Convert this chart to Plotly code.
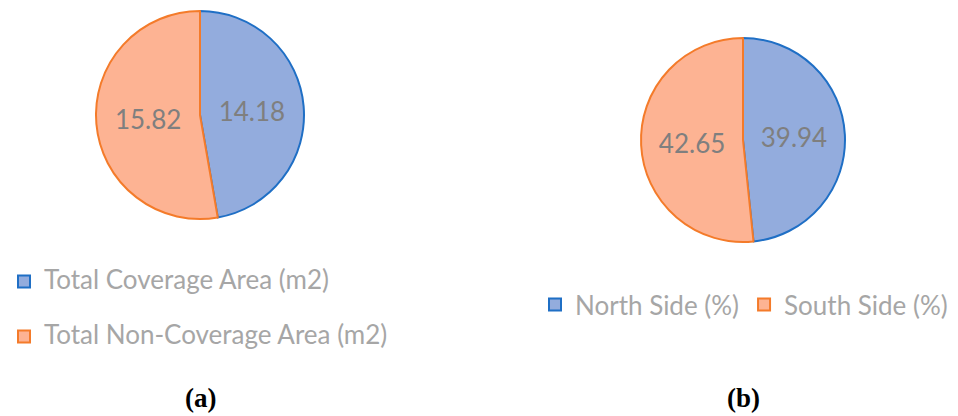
import plotly.graph_objects as go

# Data
cats_a = ["Total Coverage Area (m2)", "Total Non-Coverage Area (m2)"]
vals_a = [14.18, 15.82]
cats_b = ["North Side (%)", "South Side (%)"]
vals_b = [39.94, 42.65]
panel_labels = ["(a)", "(b)"]

W, H = 958, 416
fills = ["#93ACDD", "#FDB393"]
edges = ["#1F6FC5", "#F47B2A"]
FONT = "Lato"
LEG_SIZE = 26

def px_dom(x0, x1, ytop, ybot):
    return dict(x=[x0 / W, x1 / W], y=[1 - ybot / H, 1 - ytop / H])

# legend (a) entries: bigger visible text, extra blank line for the wide row spacing
legend_a_labels = ['<span style="font-size:%dpx">%s</span><br> ' % (LEG_SIZE, c) for c in cats_a]

fig = go.Figure()
fig.add_trace(go.Pie(
    labels=legend_a_labels, values=vals_a,
    domain=px_dom(96, 304, 11, 219),
    sort=False, direction="clockwise", rotation=0,
    marker=dict(colors=fills, line=dict(color=edges, width=2)),
    textinfo="value", textposition="inside", insidetextorientation="horizontal",
    textfont=dict(family=FONT, size=26, color="#7F7F7F"),
    hovertext=cats_a, hoverinfo="text+value",
    legend="legend",
))
fig.add_trace(go.Pie(
    labels=cats_b, values=vals_b,
    domain=px_dom(641, 845, 38, 242),
    sort=False, direction="clockwise", rotation=0,
    marker=dict(colors=fills, line=dict(color=edges, width=2)),
    textinfo="value", textposition="inside", insidetextorientation="horizontal",
    textfont=dict(family=FONT, size=26, color="#7F7F7F"),
    legend="legend2",
))

fig.update_layout(
    width=W, height=H,
    margin=dict(l=0, r=0, t=0, b=0),
    paper_bgcolor="white", plot_bgcolor="white",
    showlegend=True,
    legend=dict(x=4 / W, xanchor="left", y=1 - 262 / H, yanchor="top",
                orientation="v", valign="top",
                font=dict(family=FONT, size=20, color="#A6A6A6"),
                bgcolor="rgba(0,0,0,0)", traceorder="normal"),
    legend2=dict(x=535 / W, xanchor="left", y=1 - 281 / H, yanchor="top",
                 orientation="h",
                 font=dict(family=FONT, size=LEG_SIZE, color="#A6A6A6"),
                 bgcolor="rgba(0,0,0,0)"),
    annotations=[
        dict(text="<b>" + panel_labels[0] + "</b>", x=200 / W, y=1 - 398 / H,
             xref="paper", yref="paper", xanchor="center", yanchor="middle",
             showarrow=False,
             font=dict(family="Liberation Serif", size=27, color="black")),
        dict(text="<b>" + panel_labels[1] + "</b>", x=743 / W, y=1 - 398 / H,
             xref="paper", yref="paper", xanchor="center", yanchor="middle",
             showarrow=False,
             font=dict(family="Liberation Serif", size=27, color="black")),
    ],
)

fig.write_html("out.html")
